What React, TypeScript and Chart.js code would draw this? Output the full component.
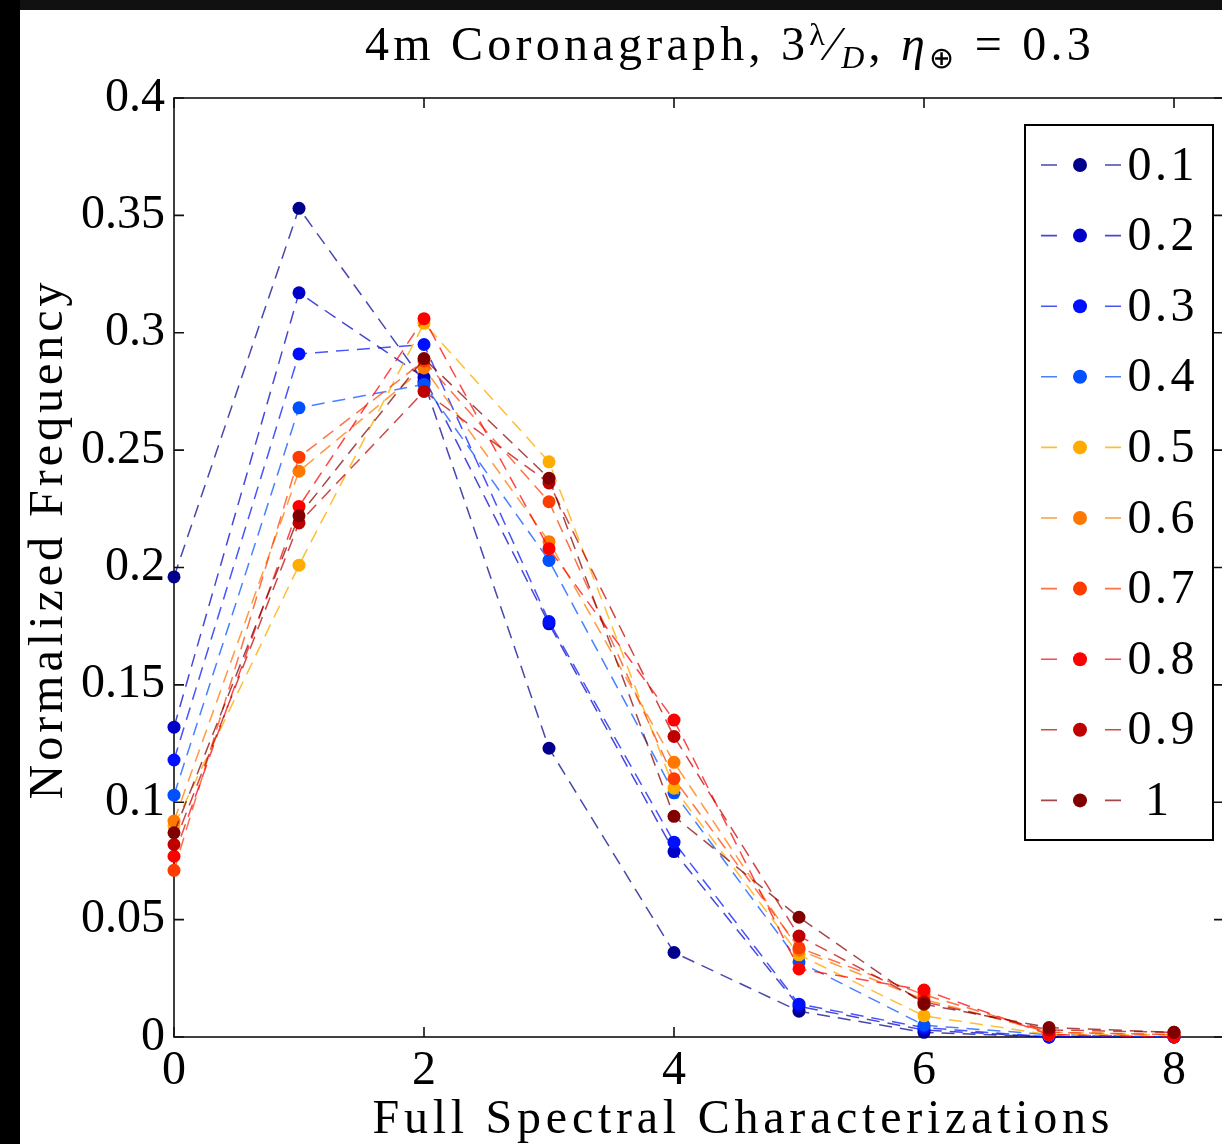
import React, { useEffect, useRef } from 'react';
import { Chart, registerables } from 'chart.js';

Chart.register(...registerables);

const xValues = [0, 1, 2, 3, 4, 5, 6, 7, 8];
const seriesLabels = ['0.1', '0.2', '0.3', '0.4', '0.5', '0.6', '0.7', '0.8', '0.9', '1'];
const s01 = [0.196, 0.353, 0.279, 0.123, 0.036, 0.011, 0.002, 0.0, 0.0];
const s02 = [0.132, 0.317, 0.281, 0.176, 0.079, 0.013, 0.003, 0.0, 0.0];
const s03 = [0.118, 0.291, 0.295, 0.177, 0.083, 0.014, 0.004, 0.0, 0.0];
const s04 = [0.103, 0.268, 0.278, 0.203, 0.104, 0.032, 0.005, 0.001, 0.0];
const s05 = [0.09, 0.201, 0.304, 0.245, 0.106, 0.035, 0.009, 0.001, 0.001];
const s06 = [0.092, 0.241, 0.285, 0.211, 0.117, 0.037, 0.016, 0.002, 0.001];
const s07 = [0.071, 0.247, 0.288, 0.228, 0.11, 0.038, 0.018, 0.002, 0.001];
const s08 = [0.077, 0.226, 0.306, 0.208, 0.135, 0.029, 0.02, 0.001, 0.0];
const s09 = [0.082, 0.219, 0.275, 0.236, 0.128, 0.043, 0.015, 0.003, 0.002];
const s10 = [0.087, 0.222, 0.289, 0.238, 0.094, 0.051, 0.014, 0.004, 0.002];
const seriesValues = [s01, s02, s03, s04, s05, s06, s07, s08, s09, s10];

const markerColors = [
  'rgb(0,0,140)', 'rgb(0,0,200)', 'rgb(0,16,255)', 'rgb(0,80,255)', 'rgb(255,172,0)',
  'rgb(255,120,0)', 'rgb(255,60,0)', 'rgb(255,0,0)', 'rgb(190,0,0)', 'rgb(128,0,0)',
];
const lineColors = [
  'rgba(0,0,140,0.72)', 'rgba(0,0,200,0.72)', 'rgba(0,16,255,0.72)', 'rgba(0,80,255,0.72)', 'rgba(255,172,0,0.8)',
  'rgba(255,120,0,0.75)', 'rgba(255,60,0,0.72)', 'rgba(255,0,0,0.72)', 'rgba(190,0,0,0.72)', 'rgba(128,0,0,0.72)',
];

const xTickValues = [0, 2, 4, 6, 8];
const yTickValues = [0, 0.05, 0.1, 0.15, 0.2, 0.25, 0.3, 0.35, 0.4];
const yTickLabels = ['0', '0.05', '0.1', '0.15', '0.2', '0.25', '0.3', '0.35', '0.4'];

const xAxisTitle = 'Full Spectral Characterizations';
const yAxisTitle = 'Normalized Frequency';

const FONT = '"Liberation Serif", "Times New Roman", serif';

function setFont(ctx: any, size: number, italic = false) {
  ctx.font = `${italic ? 'italic ' : ''}${size}px ${FONT}`;
}
function measure(ctx: any, t: string) {
  ctx.letterSpacing = '0px';
  return ctx.measureText(t).width;
}
function drawSpacedCentered(ctx: any, text: string, cx: number, y: number, target: number) {
  const w0 = measure(ctx, text);
  const n = [...text].length;
  const s = n > 1 ? (target - w0) / (n - 1) : 0;
  ctx.letterSpacing = `${s}px`;
  ctx.textAlign = 'left';
  ctx.fillText(text, cx - target / 2, y);
  ctx.letterSpacing = '0px';
}

const decorPlugin = {
  id: 'decor',
  beforeDatasetsDraw(chart: any) {
    const ctx = chart.ctx;
    const a = chart.chartArea;
    const xs = chart.scales.x;
    const ys = chart.scales.y;
    ctx.save();
    ctx.strokeStyle = '#111';
    ctx.lineWidth = 1.6;
    ctx.strokeRect(a.left, a.top, a.right - a.left, a.bottom - a.top);
    ctx.beginPath();
    const tl = 10;
    xTickValues.forEach((v) => {
      const px = xs.getPixelForValue(v);
      ctx.moveTo(px, a.bottom); ctx.lineTo(px, a.bottom - tl);
      ctx.moveTo(px, a.top); ctx.lineTo(px, a.top + tl);
    });
    yTickValues.forEach((v) => {
      const py = ys.getPixelForValue(v);
      ctx.moveTo(a.left, py); ctx.lineTo(a.left + tl, py);
      ctx.moveTo(a.right, py); ctx.lineTo(a.right - tl, py);
    });
    ctx.stroke();
    ctx.restore();
  },
  afterDraw(chart: any) {
    const ctx = chart.ctx;
    ctx.save();
    ctx.fillStyle = '#000';
    ctx.textBaseline = 'alphabetic';

    // Title
    const parts = [
      { t: '4m Coronagraph, 3', size: 48, italic: false, dy: 0 },
      { t: 'λ', size: 32, italic: false, dy: -15 },
      { t: '⁄', size: 48, italic: false, dy: 0 },
      { t: 'D', size: 32, italic: true, dy: 8 },
      { t: ', ', size: 48, italic: false, dy: 0 },
      { t: 'η', size: 48, italic: true, dy: 0 },
      { t: '⊕', size: 30, italic: false, dy: 8 },
      { t: ' = 0.3', size: 48, italic: false, dy: 0 },
    ];
    let w0 = 0; let nChars = 0;
    parts.forEach((p) => { setFont(ctx, p.size, p.italic); w0 += measure(ctx, p.t); nChars += [...p.t].length; });
    const target = 730;
    const sp = (target - w0) / nChars;
    let x = 730 - target / 2;
    const baseY = 60;
    parts.forEach((p) => {
      setFont(ctx, p.size, p.italic);
      const w = measure(ctx, p.t);
      ctx.letterSpacing = `${sp}px`;
      ctx.textAlign = 'left';
      ctx.fillText(p.t, x, baseY + p.dy);
      ctx.letterSpacing = '0px';
      x += w + sp * [...p.t].length;
    });

    // X axis title
    setFont(ctx, 48);
    drawSpacedCentered(ctx, xAxisTitle, 741, 1133, 737);

    // Y axis title
    ctx.save();
    ctx.translate(62, 541);
    ctx.rotate(-Math.PI / 2);
    setFont(ctx, 48);
    drawSpacedCentered(ctx, yAxisTitle, 0, 0, 517);
    ctx.restore();

    // Legend
    const bx = 1025, by = 125, bw = 188, bh = 715;
    ctx.fillStyle = '#fff';
    ctx.fillRect(bx, by, bw, bh);
    ctx.strokeStyle = '#000';
    ctx.lineWidth = 2;
    ctx.strokeRect(bx, by, bw, bh);
    const rowH = 70.6;
    chart.data.datasets.forEach((ds: any, i: number) => {
      const ry = 165 + i * rowH;
      ctx.strokeStyle = ds.borderColor;
      ctx.lineWidth = 1.6;
      ctx.beginPath();
      ctx.moveTo(1041, ry); ctx.lineTo(1057, ry);
      ctx.moveTo(1105, ry); ctx.lineTo(1121, ry);
      ctx.stroke();
      ctx.fillStyle = ds.pointBackgroundColor;
      ctx.beginPath();
      ctx.arc(1080, ry, 7, 0, Math.PI * 2);
      ctx.fill();
      ctx.fillStyle = '#000';
      setFont(ctx, 48);
      ctx.textBaseline = 'middle';
      const lbl = ds.label;
      if (lbl.length > 1) {
        drawSpacedCentered(ctx, lbl, 1161, ry + 2, 67);
      } else {
        ctx.textAlign = 'center';
        ctx.fillText(lbl, 1157, ry + 2);
      }
      ctx.textBaseline = 'alphabetic';
    });
    ctx.restore();
  },
};

export default function App() {
  const ref = useRef<HTMLCanvasElement | null>(null);
  useEffect(() => {
    if (!ref.current) return;
    const datasets = seriesValues.map((vals, i) => ({
      label: seriesLabels[i],
      data: xValues.map((x, j) => ({ x, y: vals[j] })),
      borderColor: lineColors[i],
      backgroundColor: markerColors[i],
      pointBackgroundColor: markerColors[i],
      pointBorderWidth: 0,
      pointRadius: 6.5,
      borderWidth: 1.5,
      borderDash: [13, 8],
      fill: false,
      tension: 0,
      clip: false as any,
      order: seriesValues.length - i,
    }));
    const chart = new Chart(ref.current, {
      type: 'line',
      data: { datasets },
      plugins: [decorPlugin],
      options: {
        animation: false,
        responsive: false,
        maintainAspectRatio: false,
        events: [],
        layout: { padding: { left: 0, top: 98, right: 36, bottom: 47 } },
        plugins: { legend: { display: false }, title: { display: false }, tooltip: { enabled: false } },
        scales: {
          x: {
            type: 'linear',
            min: 0,
            max: 8.4,
            grid: { display: false, drawTicks: false },
            border: { display: false },
            afterBuildTicks: (s: any) => { s.ticks = xTickValues.map((v) => ({ value: v })); },
            afterFit: (s: any) => { s.height = 60; },
            ticks: {
              color: '#000',
              font: { family: FONT, size: 48 },
              padding: 6,
              maxRotation: 0,
              autoSkip: false,
              callback: (v: any) => String(v),
            },
          },
          y: {
            type: 'linear',
            min: 0,
            max: 0.4,
            grid: { display: false, drawTicks: false },
            border: { display: false },
            afterBuildTicks: (s: any) => { s.ticks = yTickValues.map((v) => ({ value: v })); },
            afterFit: (s: any) => { s.width = 174; },
            ticks: {
              color: '#000',
              font: { family: FONT, size: 48 },
              padding: 9,
              autoSkip: false,
              callback: (v: any) => {
                const k = yTickValues.findIndex((t) => Math.abs(t - v) < 1e-9);
                return k >= 0 ? yTickLabels[k] : '';
              },
            },
          },
        },
      },
    });
    return () => chart.destroy();
  }, []);

  return (
    <div style={{ position: 'fixed', left: 0, top: 0, width: 1222, height: 1144, overflow: 'hidden', background: '#fff' }}>
      <canvas ref={ref} width={1260} height={1144} style={{ position: 'absolute', left: 0, top: 0, width: 1260, height: 1144 }} />
      <div style={{ position: 'absolute', left: 0, top: 0, width: 1222, height: 10, background: '#111' }} />
      <div style={{ position: 'absolute', left: 0, top: 0, width: 20, height: 1144, background: '#000' }} />
    </div>
  );
}
